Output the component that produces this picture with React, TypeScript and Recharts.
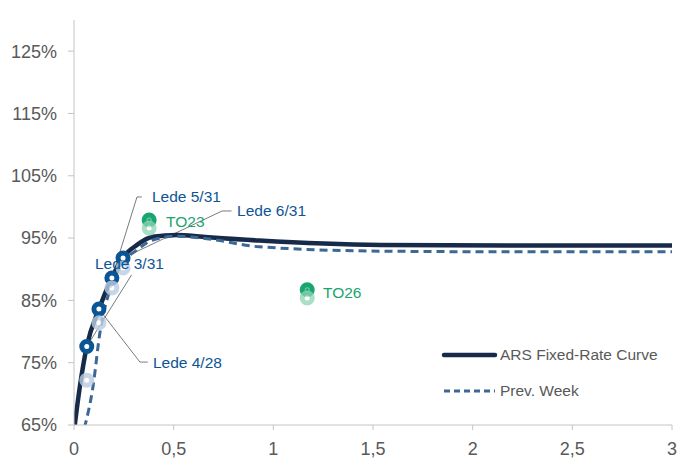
import {
  ComposedChart,
  Line,
  ReferenceDot,
  ReferenceLine,
  Scatter,
  XAxis,
  YAxis,
} from 'recharts';

// Curve knots: tenor in years, implied rate in %
const CURRENT_T = [0, 0.03, 0.064, 0.125, 0.19, 0.246, 0.316, 0.396, 0.517, 0.647, 0.93, 1.54, 2.2, 3];
const CURRENT_Y = [64.0, 71.3, 77.6, 83.6, 88.6, 91.9, 93.9, 95.2, 95.5, 95.2, 94.6, 93.9, 93.8, 93.8];

const PREV_T = [0.052, 0.095, 0.13, 0.18, 0.23, 0.316, 0.396, 0.517, 0.667, 0.93, 1.54, 2.2, 3];
const PREV_Y = [64.5, 71.1, 79.8, 86.7, 90.4, 93.1, 94.7, 95.3, 94.9, 93.6, 92.9, 92.8, 92.8];

// Lede bills
const LEDE_NAMES = ['Lede 3/31', 'Lede 4/28', 'Lede 5/31', 'Lede 6/31'];
const LEDE_T = [0.064, 0.125, 0.19, 0.246];
const LEDE_NOW = [77.6, 83.6, 88.6, 91.8];
const LEDE_PREV = [72.2, 81.4, 87.0, 90.2];

// Fixed-rate bonds
const BOND_NAMES = ['TO23', 'TO26'];
const BOND_T = [0.377, 1.17];
const BOND_NOW = [97.9, 86.7];
const BOND_PREV = [96.6, 85.4];

const Y_TICKS = [65, 75, 85, 95, 105, 115, 125];
const X_TICKS = [0, 0.5, 1, 1.5, 2, 2.5, 3];

const NAVY = '#172a49';
const DASH_BLUE = '#3d6794';
const LEDE_DARK = '#0c5594';
const LEDE_LIGHT = '#b9cde1';
const GREEN = '#17a570';
const GREEN_LIGHT = '#8fd4b5';
const AXIS = '#c4c4c4';
const TEXT = '#595959';
const FONT = '"Liberation Sans", Arial, sans-serif';

const zip = (t: number[], v: number[]) => t.map((x, i) => ({ t: x, v: v[i] }));

const currentRows = zip(CURRENT_T, CURRENT_Y);
const prevRows = zip(PREV_T, PREV_Y);
const ledeNow = zip(LEDE_T, LEDE_NOW);
const ledePrev = zip(LEDE_T, LEDE_PREV);
const bondNow = zip(BOND_T, BOND_NOW);
const bondPrev = zip(BOND_T, BOND_PREV);

// label anchors (left edge, vertical middle) and leader polylines, in data units
const LABELS = [
  { text: LEDE_NAMES[0], t: 0.105, v: 91.0, color: LEDE_DARK, leader: [[LEDE_T[0], LEDE_NOW[0]], [0.289, 89.1]] },
  { text: LEDE_NAMES[1], t: 0.396, v: 75.1, color: LEDE_DARK, leader: [[LEDE_T[1], LEDE_NOW[1]], [0.331, 75.1], [0.37, 75.1]] },
  { text: LEDE_NAMES[2], t: 0.391, v: 101.6, color: LEDE_DARK, leader: [[LEDE_T[2], LEDE_NOW[2]], [0.316, 101.6], [0.34, 101.6]] },
  { text: LEDE_NAMES[3], t: 0.818, v: 99.35, color: LEDE_DARK, leader: [[LEDE_T[3], LEDE_NOW[3]], [0.743, 99.35], [0.79, 99.35]] },
  { text: BOND_NAMES[0], t: 0.462, v: 97.6, color: GREEN, leader: [] },
  { text: BOND_NAMES[1], t: 1.249, v: 86.3, color: GREEN, leader: [] },
];

function ring(stroke: string, opacity = 1) {
  return (props: any) => (
    <circle
      cx={props.cx}
      cy={props.cy}
      r={5}
      fill="#ffffff"
      stroke={stroke}
      strokeWidth={5}
      opacity={opacity}
    />
  );
}

function greenDot(props: any) {
  return (
    <g>
      <circle cx={props.cx} cy={props.cy} r={5} fill="#7fcfaa" stroke={GREEN} strokeWidth={5} />
      <circle cx={props.cx} cy={props.cy} r={1.6} fill={GREEN} />
    </g>
  );
}

const LEGEND_ITEMS = [
  { name: 'ARS Fixed-Rate Curve', color: NAVY, width: 4.5, dash: undefined as string | undefined },
  { name: 'Prev. Week', color: DASH_BLUE, width: 3, dash: '6 4' },
];

function CurveLegend() {
  return (
    <div
      style={{
        position: 'absolute',
        left: 441,
        top: 337,
        fontFamily: FONT,
        fontSize: 15.5,
        color: TEXT,
      }}
    >
      {LEGEND_ITEMS.map((item) => (
        <div key={item.name} style={{ display: 'flex', alignItems: 'center', height: 36 }}>
          <svg width={58} height={10} style={{ marginRight: 1 }}>
            <line
              x1={3}
              y1={5}
              x2={54}
              y2={5}
              stroke={item.color}
              strokeWidth={item.width}
              strokeDasharray={item.dash}
              strokeLinecap={item.dash ? 'butt' : 'round'}
            />
          </svg>
          <span>{item.name}</span>
        </div>
      ))}
    </div>
  );
}

const tickStyle = { fontFamily: FONT, fontSize: 18, fill: TEXT };

export default function App() {
  return (
    <div style={{ width: 686, height: 459, background: '#ffffff', position: 'absolute', left: 0, top: 0 }}>
      <style>{'body{margin:0}'}</style>
      <ComposedChart
        width={686}
        height={459}
        margin={{ top: 20, right: 14, bottom: 4, left: 0 }}
      >
        <XAxis
          type="number"
          dataKey="t"
          domain={[0, 3]}
          ticks={X_TICKS}
          tickFormatter={(v: number) => String(v).replace('.', ',')}
          tick={tickStyle}
          stroke={AXIS}
          tickSize={5}
          tickMargin={12}
          height={30}
          allowDataOverflow
        />
        <YAxis
          type="number"
          domain={[65, 130]}
          ticks={Y_TICKS}
          tickFormatter={(v: number) => `${v}%`}
          tick={tickStyle}
          stroke={AXIS}
          tickSize={6}
          tickMargin={11}
          width={74}
          allowDataOverflow
        />
        {LABELS.flatMap((l) =>
          l.leader.slice(1).map((p, i) => (
            <ReferenceLine
              key={`${l.text}-${i}`}
              segment={[
                { x: l.leader[i][0], y: l.leader[i][1] },
                { x: p[0], y: p[1] },
              ]}
              stroke={TEXT}
              strokeWidth={0.8}
              ifOverflow="visible"
            />
          )),
        )}
        <Line
          data={currentRows}
          dataKey="v"
          type="monotone"
          stroke={NAVY}
          strokeWidth={4.5}
          dot={false}
          activeDot={false}
          isAnimationActive={false}
        />
        <Line
          data={prevRows}
          dataKey="v"
          type="monotone"
          stroke={DASH_BLUE}
          strokeWidth={3}
          strokeDasharray="8 5"
          dot={false}
          activeDot={false}
          isAnimationActive={false}
        />
        <Scatter data={ledeNow} dataKey="v" shape={ring(LEDE_DARK)} isAnimationActive={false} />
        <Scatter data={ledePrev} dataKey="v" shape={ring(LEDE_LIGHT, 0.8)} isAnimationActive={false} />
        <Scatter data={bondNow} dataKey="v" shape={greenDot} isAnimationActive={false} />
        <Scatter data={bondPrev} dataKey="v" shape={ring(GREEN_LIGHT, 0.75)} isAnimationActive={false} />
        {LABELS.map((l) => (
          <ReferenceDot
            key={l.text}
            x={l.t}
            y={l.v}
            r={0}
            ifOverflow="visible"
            label={(props: any) => (
              <text
                x={props.viewBox.x}
                y={props.viewBox.y}
                dominantBaseline="central"
                fontFamily={FONT}
                fontSize={15.5}
                fill={l.color}
              >
                {l.text}
              </text>
            )}
          />
        ))}
      </ComposedChart>
      <CurveLegend />
    </div>
  );
}
